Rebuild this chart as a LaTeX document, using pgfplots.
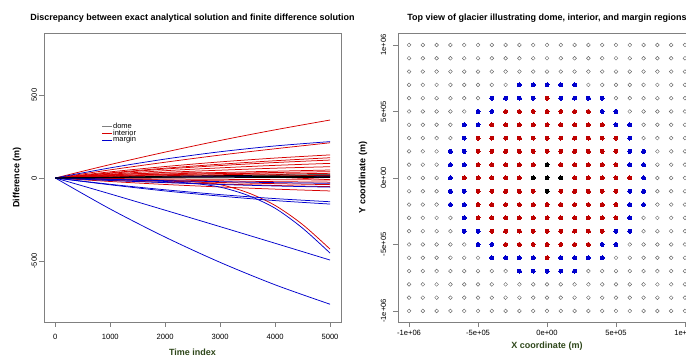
\documentclass[border=0pt]{standalone}
\usepackage{pgfplots}
\pgfplotsset{compat=1.18}
\usepackage{fontspec}
\setmainfont{Liberation Sans}
\definecolor{rred}{RGB}{215,0,0}
\definecolor{rblue}{RGB}{0,0,205}
\definecolor{dred}{RGB}{190,0,0}
\definecolor{labgreen}{RGB}{45,70,25}
\definecolor{boxgray}{RGB}{128,128,128}
\pgfplotsset{
  rstyle/.style={
    scale only axis,
    axis line style={boxgray, line width=0.7pt},
    tick style={boxgray, line width=0.7pt},
    major tick length=5pt,
    tick align=outside,
    tick pos=left,
    ticklabel style={font=\fontsize{7.6}{9}\selectfont},
    /pgf/number format/assume math mode=true,
    /pgf/number format/set thousands separator={},
    xlabel style={font=\bfseries\fontsize{9}{10}\selectfont, text=labgreen, anchor=base},
    ylabel style={font=\bfseries\fontsize{9}{10}\selectfont, anchor=center},
    title style={font=\bfseries\fontsize{9}{10}\selectfont, anchor=base, yshift=0pt},
  }
}
\begin{document}
\begin{tikzpicture}
\path[use as bounding box] (0,0) rectangle (686pt,361pt);
% ---------------- left panel ----------------
\begin{axis}[rstyle,
  at={(44pt,39pt)}, anchor=south west, width=297pt, height=289pt,
  xmin=-206, xmax=5200, ymin=-867, ymax=873,
  xtick={0,1000,2000,3000,4000,5000}, ytick={-500,0,500},
  xticklabel style={anchor=base, yshift=-13pt},
  yticklabel style={rotate=90, anchor=base, yshift=2pt},
  title={Discrepancy between exact analytical solution and finite difference solution},
  title style={at={(axis description cs:0.5,1.021)}},
  xlabel={Time index},
  xlabel style={at={(axis description cs:0.5,-0.117)}},
  ylabel={Difference (m)},
  ylabel style={at={(axis description cs:-0.091,0.5)}},
  legend style={at={(axis cs:845,338)}, anchor=north west, draw=none, fill=none,
    inner sep=0pt, font=\fontsize{7.5}{7}\selectfont, row sep=-1.2pt,
    nodes={inner sep=0.6pt}, cells={anchor=west}},
  legend image code/.code={\draw[#1] (0pt,0pt) -- (10pt,0pt);},
  every axis plot/.append style={line width=0.75pt, smooth},
]
\addlegendimage{gray, line width=0.6pt}\addlegendentry{dome}
\addlegendimage{rred, line width=0.6pt}\addlegendentry{interior}
\addlegendimage{rblue, line width=0.6pt}\addlegendentry{margin}
% interior (red)
\addplot[rred, forget plot] coordinates {(0,0)(1000,81)(2000,156)(3000,226)(4000,290)(5000,349)};
\addplot[rred, forget plot] coordinates {(0,0)(1000,49)(2000,95)(3000,138)(4000,176)(5000,212)};
\addplot[rred, forget plot] coordinates {(0,0)(1000,37)(2000,69)(3000,97)(4000,120)(5000,139)};
\addplot[rred, forget plot] coordinates {(0,0)(1000,31)(2000,59)(3000,83)(4000,104)(5000,122)};
\addplot[rred, forget plot] coordinates {(0,0)(1000,28)(2000,54)(3000,75)(4000,93)(5000,108)};
\addplot[rred, forget plot] coordinates {(0,0)(1000,23)(2000,44)(3000,61)(4000,76)(5000,88)};
\addplot[rred, forget plot] coordinates {(0,0)(1000,18)(2000,34)(3000,47)(4000,59)(5000,68)};
\addplot[rred, forget plot] coordinates {(0,0)(1000,13)(2000,24)(3000,33)(4000,41)(5000,48)};
\addplot[rred, forget plot] coordinates {(0,0)(1000,10)(2000,19)(3000,27)(4000,33)(5000,38)};
\addplot[rred, forget plot] coordinates {(0,0)(1000,7)(2000,14)(3000,20)(4000,24)(5000,28)};
\addplot[rred, forget plot] coordinates {(0,0)(1000,4)(2000,7)(3000,10)(4000,13)(5000,15)};
\addplot[rred, forget plot] coordinates {(0,0)(1000,20)(2000,30)(3000,30)(4000,22)(5000,8)};
\addplot[rred, forget plot] coordinates {(0,0)(1000,15)(2000,20)(3000,15)(4000,5)(5000,-10)};
\addplot[rred, forget plot] coordinates {(0,0)(1000,-3)(2000,-6)(3000,-8)(4000,-10)(5000,-12)};
\addplot[rred, forget plot] coordinates {(0,0)(1000,-7)(2000,-12)(3000,-17)(4000,-22)(5000,-25)};
\addplot[rred, forget plot] coordinates {(0,0)(1000,-10)(2000,-19)(3000,-27)(4000,-34)(5000,-40)};
\addplot[rred, forget plot] coordinates {(0,0)(1000,-14)(2000,-26)(3000,-36)(4000,-45)(5000,-52)};
\addplot[rred, forget plot] coordinates {(0,0)(1000,-21)(2000,-39)(3000,-54)(4000,-67)(5000,-78)};
\addplot[rred, forget plot] coordinates {(0,0)(500,-2)(1000,-5)(1500,-9)(2000,-14)(2500,-22)(3000,-40)(3500,-88)(4000,-165)(4500,-280)(5000,-428)};
% margin (blue)
\addplot[rblue, forget plot] coordinates {(0,0)(1000,61)(2000,114)(3000,158)(4000,193)(5000,219)};
\addplot[rblue, forget plot] coordinates {(0,0)(1000,3)(2000,6)(3000,8)(4000,9)(5000,10)};
\addplot[rblue, forget plot] coordinates {(0,0)(1000,-8)(2000,-16)(3000,-22)(4000,-28)(5000,-32)};
\addplot[rblue, forget plot] coordinates {(0,0)(1000,-15)(2000,-28)(3000,-39)(4000,-48)(5000,-55)};
\addplot[rblue, forget plot] coordinates {(0,0)(1000,-38)(2000,-71)(3000,-100)(4000,-124)(5000,-143)};
\addplot[rblue, forget plot] coordinates {(0,0)(1000,-41)(2000,-78)(3000,-109)(4000,-136)(5000,-157)};
\addplot[rblue, forget plot] coordinates {(0,0)(1000,-96)(2000,-194)(3000,-293)(4000,-393)(5000,-494)};
\addplot[rblue, forget plot] coordinates {(0,0)(1000,-187)(2000,-356)(3000,-508)(4000,-643)(5000,-760)};
\addplot[rblue, forget plot] coordinates {(0,0)(500,-3)(1000,-8)(1500,-14)(2000,-21)(2500,-32)(3000,-55)(3500,-104)(4000,-182)(4500,-302)(5000,-452)};
% dome (black)
\addplot[black, forget plot] coordinates {(0,0)(1000,5)(2000,10)(3000,14)(4000,17)(5000,20)};
\addplot[black, forget plot] coordinates {(0,0)(1000,3)(2000,5)(3000,7)(4000,9)(5000,10)};
\addplot[black, forget plot] coordinates {(0,0)(1000,1)(2000,2)(3000,2)(4000,3)(5000,3)};
\end{axis}
% ---------------- right panel ----------------
\begin{axis}[rstyle,
  at={(398pt,39pt)}, anchor=south west, width=298pt, height=289pt,
  xmin=-10.8, xmax=10.8, ymin=-10.83, ymax=10.9,
  xtick={-10,-5,0,5,10}, xticklabels={-1e+06,-5e+05,0e+00,5e+05,1e+06},
  ytick={-10,-5,0,5,10}, yticklabels={-1e+06,-5e+05,0e+00,5e+05,1e+06},
  xticklabel style={anchor=base, yshift=-9pt},
  yticklabel style={rotate=90, anchor=base, yshift=7pt},
  title={Top view of glacier illustrating dome, interior, and margin regions},
  title style={at={(axis description cs:0.5,1.021)}},
  xlabel={X coordinate (m)},
  xlabel style={at={(axis description cs:0.5,-0.09)}},
  ylabel={Y coordinate (m)},
  ylabel style={at={(axis description cs:-0.117,0.5)}},
  open/.style={only marks, mark=o, mark size=1.9pt, mark options={draw=black!60, line width=0.45pt}},
  fill/.style={only marks, mark=*, mark size=2pt, mark options={draw=#1, fill=#1, line width=0pt}},
]
% open circles (outside glacier)
\addplot[open] coordinates {
(-10,10)(-9,10)(-8,10)(-7,10)(-6,10)(-5,10)(-4,10)(-3,10)(-2,10)(-1,10)(0,10)(1,10)(2,10)(3,10)(4,10)(5,10)(6,10)(7,10)(8,10)(9,10)(10,10)
(-10,9)(-9,9)(-8,9)(-7,9)(-6,9)(-5,9)(-4,9)(-3,9)(-2,9)(-1,9)(0,9)(1,9)(2,9)(3,9)(4,9)(5,9)(6,9)(7,9)(8,9)(9,9)(10,9)
(-10,8)(-9,8)(-8,8)(-7,8)(-6,8)(-5,8)(-4,8)(-3,8)(-2,8)(-1,8)(0,8)(1,8)(2,8)(3,8)(4,8)(5,8)(6,8)(7,8)(8,8)(9,8)(10,8)
(-10,7)(-9,7)(-8,7)(-7,7)(-6,7)(-5,7)(-4,7)(-3,7)(3,7)(4,7)(5,7)(6,7)(7,7)(8,7)(9,7)(10,7)
(-10,6)(-9,6)(-8,6)(-7,6)(-6,6)(-5,6)(5,6)(6,6)(7,6)(8,6)(9,6)(10,6)
(-10,5)(-9,5)(-8,5)(-7,5)(-6,5)(6,5)(7,5)(8,5)(9,5)(10,5)
(-10,4)(-9,4)(-8,4)(-7,4)(7,4)(8,4)(9,4)(10,4)
(-10,3)(-9,3)(-8,3)(-7,3)(7,3)(8,3)(9,3)(10,3)
(-10,2)(-9,2)(-8,2)(8,2)(9,2)(10,2)
(-10,1)(-9,1)(-8,1)(8,1)(9,1)(10,1)
(-10,0)(-9,0)(-8,0)(8,0)(9,0)(10,0)
(-10,-1)(-9,-1)(-8,-1)(8,-1)(9,-1)(10,-1)
(-10,-2)(-9,-2)(-8,-2)(8,-2)(9,-2)(10,-2)
(-10,-3)(-9,-3)(-8,-3)(-7,-3)(7,-3)(8,-3)(9,-3)(10,-3)
(-10,-4)(-9,-4)(-8,-4)(-7,-4)(7,-4)(8,-4)(9,-4)(10,-4)
(-10,-5)(-9,-5)(-8,-5)(-7,-5)(-6,-5)(6,-5)(7,-5)(8,-5)(9,-5)(10,-5)
(-10,-6)(-9,-6)(-8,-6)(-7,-6)(-6,-6)(-5,-6)(5,-6)(6,-6)(7,-6)(8,-6)(9,-6)(10,-6)
(-10,-7)(-9,-7)(-8,-7)(-7,-7)(-6,-7)(-5,-7)(-4,-7)(-3,-7)(3,-7)(4,-7)(5,-7)(6,-7)(7,-7)(8,-7)(9,-7)(10,-7)
(-10,-8)(-9,-8)(-8,-8)(-7,-8)(-6,-8)(-5,-8)(-4,-8)(-3,-8)(-2,-8)(-1,-8)(0,-8)(1,-8)(2,-8)(3,-8)(4,-8)(5,-8)(6,-8)(7,-8)(8,-8)(9,-8)(10,-8)
(-10,-9)(-9,-9)(-8,-9)(-7,-9)(-6,-9)(-5,-9)(-4,-9)(-3,-9)(-2,-9)(-1,-9)(0,-9)(1,-9)(2,-9)(3,-9)(4,-9)(5,-9)(6,-9)(7,-9)(8,-9)(9,-9)(10,-9)
(-10,-10)(-9,-10)(-8,-10)(-7,-10)(-6,-10)(-5,-10)(-4,-10)(-3,-10)(-2,-10)(-1,-10)(0,-10)(1,-10)(2,-10)(3,-10)(4,-10)(5,-10)(6,-10)(7,-10)(8,-10)(9,-10)(10,-10)
};
% margin (blue)
\addplot[fill=rblue] coordinates {
(-2,7)(-1,7)(0,7)(1,7)(2,7)
(-4,6)(-3,6)(-2,6)(-1,6)(1,6)(2,6)(3,6)(4,6)
(-5,5)(-4,5)(4,5)(5,5)
(-6,4)(-5,4)(5,4)(6,4)
(-6,3)(6,3)
(-7,2)(-6,2)(6,2)(7,2)
(-7,1)(-6,1)(6,1)(7,1)
(-7,0)(7,0)
(-7,-1)(-6,-1)(6,-1)(7,-1)
(-7,-2)(-6,-2)(6,-2)(7,-2)
(-6,-3)(6,-3)
(-6,-4)(-5,-4)(5,-4)(6,-4)
(-5,-5)(-4,-5)(4,-5)(5,-5)
(-4,-6)(-3,-6)(-2,-6)(-1,-6)(1,-6)(2,-6)(3,-6)(4,-6)
(-2,-7)(-1,-7)(0,-7)(1,-7)(2,-7)
};
% interior (red)
\addplot[fill=dred] coordinates {
(0,6)
(-3,5)(-2,5)(-1,5)(0,5)(1,5)(2,5)(3,5)
(-4,4)(-3,4)(-2,4)(-1,4)(0,4)(1,4)(2,4)(3,4)(4,4)
(-5,3)(-4,3)(-3,3)(-2,3)(-1,3)(0,3)(1,3)(2,3)(3,3)(4,3)(5,3)
(-5,2)(-4,2)(-3,2)(-2,2)(-1,2)(0,2)(1,2)(2,2)(3,2)(4,2)(5,2)
(-5,1)(-4,1)(-3,1)(-2,1)(-1,1)(1,1)(2,1)(3,1)(4,1)(5,1)
(-6,0)(-5,0)(-4,0)(-3,0)(-2,0)(2,0)(3,0)(4,0)(5,0)(6,0)
(-5,-1)(-4,-1)(-3,-1)(-2,-1)(-1,-1)(1,-1)(2,-1)(3,-1)(4,-1)(5,-1)
(-5,-2)(-4,-2)(-3,-2)(-2,-2)(-1,-2)(0,-2)(1,-2)(2,-2)(3,-2)(4,-2)(5,-2)
(-5,-3)(-4,-3)(-3,-3)(-2,-3)(-1,-3)(0,-3)(1,-3)(2,-3)(3,-3)(4,-3)(5,-3)
(-4,-4)(-3,-4)(-2,-4)(-1,-4)(0,-4)(1,-4)(2,-4)(3,-4)(4,-4)
(-3,-5)(-2,-5)(-1,-5)(0,-5)(1,-5)(2,-5)(3,-5)
(0,-6)
};
% dome (black)
\addplot[fill=black] coordinates {(0,1)(-1,0)(0,0)(1,0)(0,-1)};
\end{axis}
\end{tikzpicture}
\end{document}
